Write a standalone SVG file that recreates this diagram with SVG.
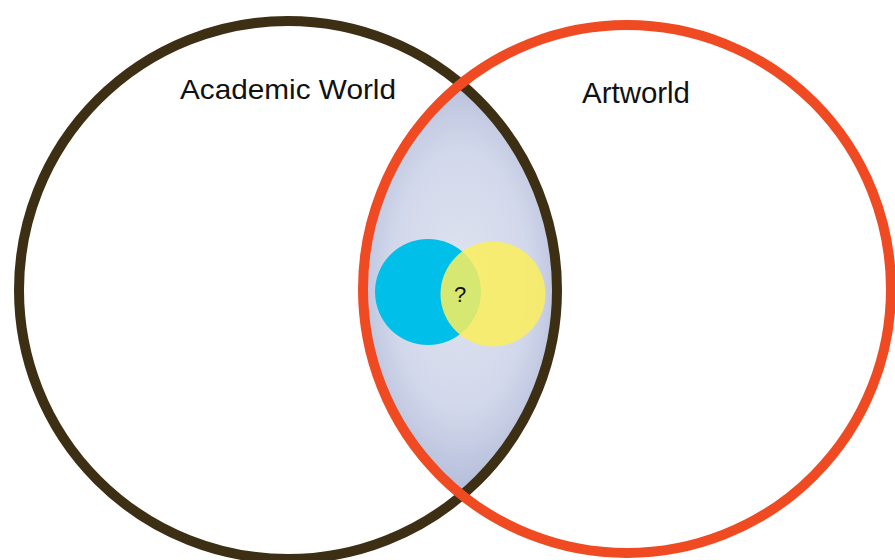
<svg xmlns="http://www.w3.org/2000/svg" width="895" height="560" viewBox="0 0 895 560">
<defs>
<radialGradient id="lensGrad" gradientUnits="userSpaceOnUse" cx="460" cy="280" r="125" gradientTransform="translate(460 280) scale(1 1.9) translate(-460 -280)">
<stop offset="0" stop-color="#dfe3f0"/>
<stop offset="0.55" stop-color="#d2d8eb"/>
<stop offset="1" stop-color="#aab4d4"/>
</radialGradient>
<clipPath id="redClip"><circle cx="627" cy="289" r="264"/></clipPath>
</defs>
<style>
.label{font-family:"Liberation Sans",Arial,sans-serif;fill:#111;}
.ring{fill:none;stroke-width:10;}
</style>
<rect width="895" height="560" fill="#ffffff"/>
<g id="intersection">
<circle cx="288" cy="290" r="269" fill="url(#lensGrad)" clip-path="url(#redClip)"/>
</g>
<g id="academic-world">
<circle class="ring" cx="288" cy="290" r="269" stroke="#3d2f14"/>
<text class="label" x="180" y="99" font-size="28.5" textLength="216" lengthAdjust="spacingAndGlyphs">Academic World</text>
</g>
<g id="artworld">
<circle class="ring" cx="627" cy="289" r="264" stroke="#f04a23"/>
<text class="label" x="582" y="103" font-size="29" textLength="108" lengthAdjust="spacingAndGlyphs">Artworld</text>
</g>
<g id="blue">
<circle cx="428" cy="292" r="53" fill="#00bfe8"/>
</g>
<g id="yellow">
<circle cx="493" cy="294" r="52.5" fill="#fbef5c" fill-opacity="0.85"/>
<text class="label" x="460" y="302" font-size="22" text-anchor="middle">?</text>
</g>
<g id="connectors"/>
</svg>
